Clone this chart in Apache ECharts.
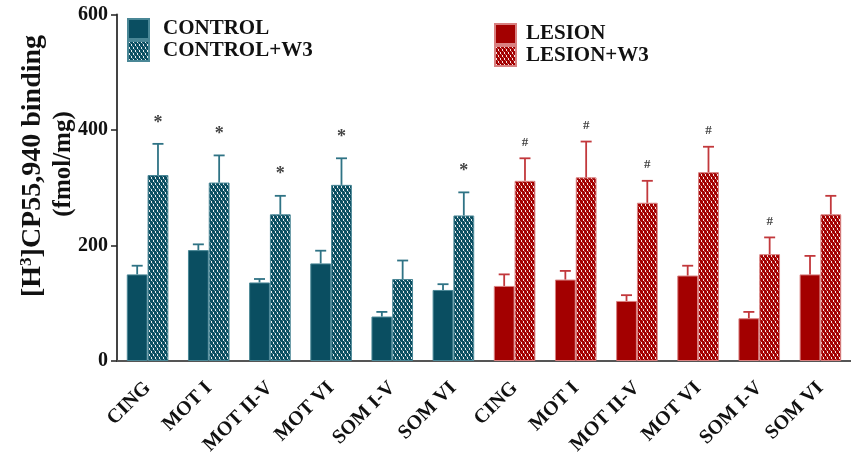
<!DOCTYPE html>
<html>
<head>
<meta charset="utf-8">
<script src="https://cdn.jsdelivr.net/npm/echarts@6/dist/echarts.min.js"></script>
<style>
  html, body { margin: 0; padding: 0; background: #fff; }
  #chart { width: 851px; height: 461px; }
</style>
</head>
<body>
<div id="chart"></div>
<script>
// Brain regions, shown once for each treatment group
const regions = ['CING', 'MOT I', 'MOT II-V', 'MOT VI', 'SOM I-V', 'SOM VI'];

// [3H]CP55,940 binding (fmol/mg), mean and SEM
const controlMean   = [150, 192, 136, 169, 77, 123];
const controlSem    = [15, 10, 6, 22, 8, 10];
const controlW3Mean = [322, 309, 254, 305, 142, 252];
const controlW3Sem  = [54, 47, 32, 46, 32, 40];
const controlW3Sig  = ['*', '*', '*', '*', '', '*'];

const lesionMean    = [130, 141, 104, 148, 74, 150];
const lesionSem     = [20, 15, 10, 17, 11, 32];
const lesionW3Mean  = [312, 318, 274, 327, 185, 254];
const lesionW3Sem   = [39, 62, 38, 44, 29, 32];
const lesionW3Sig   = ['#', '#', '#', '#', '#', ''];

const yTicks = [0, 200, 400, 600];

const TEAL = '#0a4e61';
const RED = '#a30000';
const SERIF = '"Liberation Serif", "Times New Roman", serif';

// Dotted zig-zag fill used for the W3-treated groups
function dotted(base) {
  const c = document.createElement('canvas');
  c.width = 4; c.height = 6;
  const g = c.getContext('2d');
  g.fillStyle = base;
  g.fillRect(0, 0, 4, 6);
  g.fillStyle = 'rgba(255,255,255,0.9)';
  g.fillRect(1, 0, 1, 2);
  g.fillRect(3, 3, 1, 2);
  g.fillStyle = 'rgba(255,255,255,0.35)';
  g.fillRect(2, 2, 1, 1);
  g.fillRect(0, 5, 1, 1);
  return { image: c, repeat: 'repeat' };
}

const n = regions.length;
const blanks = regions.map(() => '-');
const categories = regions.concat(regions);

// Bars: control block on the left half, lesion block on the right half
const ctrlData   = controlMean.concat(blanks);
const ctrlW3Data = controlW3Mean.concat(blanks);
const lesData    = blanks.concat(lesionMean);
const lesW3Data  = blanks.concat(lesionW3Mean);

// Error bar rows: [category index, mean, sem, side(-1 left/+1 right), group(0 ctrl/1 lesion), mark]
const errRows = [];
for (let i = 0; i < n; i++) {
  errRows.push([i, controlMean[i], controlSem[i], -1, 0, '']);
  errRows.push([i, controlW3Mean[i], controlW3Sem[i], 1, 0, controlW3Sig[i]]);
  errRows.push([i + n, lesionMean[i], lesionSem[i], -1, 1, '']);
  errRows.push([i + n, lesionW3Mean[i], lesionW3Sem[i], 1, 1, lesionW3Sig[i]]);
}
const BAR_RATIO = 0.34;

const chart = echarts.init(document.getElementById('chart'), null, { renderer: 'canvas' });

const legendText = { fontFamily: SERIF, fontWeight: 'bold', fontSize: 21, color: '#111', lineHeight: 20 };

chart.setOption({
  animation: false,
  backgroundColor: '#fff',
  grid: { left: 117, top: 14.5, width: 739, height: 346.5, containLabel: false },
  legend: [
    {
      data: ['CONTROL', 'CONTROL+W3'], orient: 'vertical', left: 127, top: 18,
      itemWidth: 21, itemHeight: 20, itemGap: 0, icon: 'rect', padding: 0,
      textStyle: Object.assign({ padding: [0, 0, 0, 9] }, legendText),
      selectedMode: false
    },
    {
      data: ['LESION', 'LESION+W3'], orient: 'vertical', left: 494, top: 23,
      itemWidth: 21, itemHeight: 20, itemGap: 0, icon: 'rect', padding: 0,
      textStyle: Object.assign({ padding: [0, 0, 0, 5] }, legendText),
      selectedMode: false
    }
  ],
  xAxis: {
    type: 'category',
    data: categories,
    axisLine: { lineStyle: { color: '#555', width: 2 } },
    axisTick: { alignWithLabel: true, length: 6, lineStyle: { color: '#222', width: 1.5 } },
    axisLabel: {
      interval: 0, rotate: 45, margin: 24,
      fontFamily: SERIF, fontWeight: 'bold', fontSize: 20, color: '#111'
    }
  },
  yAxis: {
    type: 'value', min: yTicks[0], max: yTicks[yTicks.length - 1], interval: 200,
    axisLine: { show: true, lineStyle: { color: '#444', width: 2 } },
    axisTick: { show: true, length: 6, lineStyle: { color: '#222', width: 1.5 } },
    splitLine: { show: false },
    axisLabel: { margin: 9, fontFamily: SERIF, fontWeight: 'bold', fontSize: 20, color: '#111' }
  },
  graphic: [
    {
      type: 'text', x: 33, y: 166, rotation: Math.PI / 2,
      style: {
        text: '{b|[H}{s|3}{b|]CP55,940 binding}',
        align: 'center', verticalAlign: 'middle',
        rich: {
          b: { fontFamily: SERIF, fontWeight: 'bold', fontSize: 28, fill: '#111' },
          s: { fontFamily: SERIF, fontWeight: 'bold', fontSize: 17, fill: '#111', padding: [0, 0, 12, 0] }
        }
      }
    },
    {
      type: 'text', x: 64, y: 164, rotation: Math.PI / 2,
      style: {
        text: '(fmol/mg)', align: 'center', verticalAlign: 'middle',
        fontFamily: SERIF, fontWeight: 'bold', fontSize: 25, fill: '#111'
      }
    }
  ],
  series: [
    {
      name: 'CONTROL', type: 'bar', stack: 'base', data: ctrlData, barWidth: (BAR_RATIO * 100) + '%', barGap: 0,
      itemStyle: { color: TEAL, borderColor: '#4a8796', borderWidth: 1 }
    },
    {
      name: 'CONTROL+W3', type: 'bar', stack: 'w3', data: ctrlW3Data, barWidth: (BAR_RATIO * 100) + '%', barGap: 0,
      itemStyle: { color: dotted(TEAL), borderColor: '#4a8796', borderWidth: 1 }
    },
    {
      name: 'LESION', type: 'bar', stack: 'base', data: lesData, barWidth: (BAR_RATIO * 100) + '%', barGap: 0,
      itemStyle: { color: RED, borderColor: '#d98080', borderWidth: 1 }
    },
    {
      name: 'LESION+W3', type: 'bar', stack: 'w3', data: lesW3Data, barWidth: (BAR_RATIO * 100) + '%', barGap: 0,
      itemStyle: { color: dotted(RED), borderColor: '#d98080', borderWidth: 1 }
    },
    {
      // Upper SEM whiskers plus significance marks
      type: 'custom',
      data: errRows,
      z: 5,
      renderItem: function (params, api) {
        const idx = api.value(0);
        const mean = api.value(1);
        const sem = api.value(2);
        const side = api.value(3);
        const group = api.value(4);
        const mark = errRows[params.dataIndex][5];
        const band = api.size([1, 0])[0];
        const bw = band * BAR_RATIO;
        const base = api.coord([idx, mean]);
        const top = api.coord([idx, mean + sem]);
        const x = base[0] + side * bw / 2;
        const col = group === 0 ? '#2f7385' : '#c2383c';
        const cap = 5.5;
        const children = [
          { type: 'line', shape: { x1: x, y1: base[1], x2: x, y2: top[1] }, style: { stroke: col, lineWidth: 1.8 } },
          { type: 'line', shape: { x1: x - cap, y1: top[1], x2: x + cap, y2: top[1] }, style: { stroke: col, lineWidth: 1.8 } }
        ];
        if (mark) {
          const star = mark === '*';
          children.push({
            type: 'text',
            x: x, y: top[1] - (star ? 21 : 16),
            style: {
              text: mark, align: 'center', verticalAlign: 'middle',
              fontFamily: star ? SERIF : SERIF,
              fontWeight: 'bold', fontSize: star ? 18 : 13, fill: '#444'
            }
          });
        }
        return { type: 'group', children: children };
      }
    }
  ]
});
</script>
</body>
</html>
